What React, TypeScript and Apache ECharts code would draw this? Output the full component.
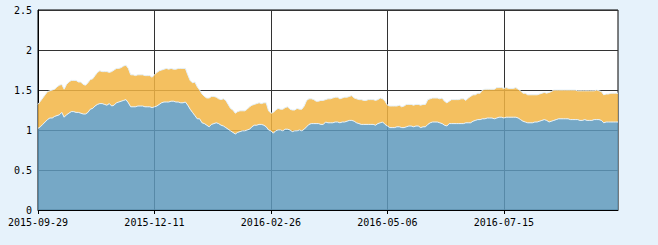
import React, { useEffect, useRef } from "react";
import * as echarts from "echarts";

// Trading-day calendar (categories): weekdays from the start date, minus these closed days
const START_DATE = "2015-09-29";
const POINT_COUNT = 245;
const CLOSED_DAYS = [
  "2015-10-01", "2015-10-02", "2015-10-05", "2015-10-06",
  "2016-01-01",
  "2016-02-08", "2016-02-09", "2016-02-10", "2016-02-11", "2016-02-12",
  "2016-04-04", "2016-06-09", "2016-09-15", "2016-09-16",
];

// Lower (blue) series
const BLUE = [
  1.02, 1.04, 1.07, 1.10, 1.13, 1.15, 1.15, 1.17, 1.18, 1.19,
  1.22, 1.16, 1.19, 1.21, 1.23, 1.23, 1.22, 1.22, 1.21, 1.20,
  1.20, 1.22, 1.26, 1.27, 1.30, 1.32, 1.33, 1.33, 1.32, 1.31,
  1.33, 1.30, 1.31, 1.34, 1.35, 1.36, 1.37, 1.38, 1.34, 1.29,
  1.29, 1.29, 1.30, 1.30, 1.30, 1.29, 1.29, 1.29, 1.28, 1.29,
  1.30, 1.32, 1.34, 1.35, 1.35, 1.35, 1.36, 1.36, 1.35, 1.35,
  1.34, 1.34, 1.35, 1.31, 1.26, 1.22, 1.18, 1.14, 1.14, 1.09,
  1.08, 1.06, 1.04, 1.07, 1.08, 1.09, 1.08, 1.06, 1.05, 1.03,
  1.01, 0.99, 0.97, 0.95, 0.97, 0.98, 0.99, 0.99, 1.00, 1.01,
  1.04, 1.06, 1.06, 1.07, 1.07, 1.06, 1.04, 1.00, 0.99, 0.96,
  0.99, 1.00, 1.00, 0.99, 1.01, 1.01, 1.00, 0.98, 0.99, 0.99,
  1.00, 0.99, 1.01, 1.04, 1.07, 1.08, 1.08, 1.08, 1.08, 1.07,
  1.07, 1.10, 1.09, 1.09, 1.09, 1.10, 1.10, 1.09, 1.10, 1.10,
  1.11, 1.12, 1.12, 1.11, 1.09, 1.08, 1.07, 1.07, 1.07, 1.07,
  1.07, 1.07, 1.06, 1.08, 1.09, 1.10, 1.07, 1.05, 1.03, 1.03,
  1.03, 1.04, 1.04, 1.03, 1.03, 1.04, 1.05, 1.05, 1.04, 1.05,
  1.05, 1.03, 1.04, 1.04, 1.07, 1.09, 1.10, 1.10, 1.10, 1.09,
  1.08, 1.06, 1.05, 1.08, 1.08, 1.08, 1.08, 1.08, 1.08, 1.08,
  1.09, 1.09, 1.09, 1.11, 1.12, 1.13, 1.13, 1.14, 1.14, 1.15,
  1.15, 1.15, 1.14, 1.15, 1.16, 1.16, 1.15, 1.16, 1.16, 1.16,
  1.16, 1.16, 1.15, 1.13, 1.11, 1.10, 1.09, 1.09, 1.09, 1.10,
  1.10, 1.11, 1.12, 1.13, 1.12, 1.10, 1.11, 1.12, 1.13, 1.14,
  1.14, 1.14, 1.14, 1.14, 1.13, 1.13, 1.13, 1.13, 1.12, 1.12,
  1.13, 1.12, 1.12, 1.12, 1.13, 1.13, 1.13, 1.12, 1.09, 1.10,
  1.10, 1.10, 1.10, 1.10, 1.10,
];

// Upper (orange) series, stacked on the blue one
const ORANGE = [
  0.30, 0.32, 0.33, 0.34, 0.35, 0.34, 0.35, 0.34, 0.36, 0.37,
  0.35, 0.35, 0.38, 0.39, 0.39, 0.39, 0.40, 0.38, 0.39, 0.37,
  0.36, 0.37, 0.37, 0.37, 0.38, 0.40, 0.41, 0.40, 0.41, 0.42,
  0.39, 0.43, 0.44, 0.43, 0.42, 0.42, 0.43, 0.43, 0.43, 0.40,
  0.40, 0.39, 0.39, 0.39, 0.39, 0.39, 0.39, 0.39, 0.38, 0.40,
  0.42, 0.42, 0.41, 0.41, 0.42, 0.41, 0.41, 0.40, 0.41, 0.42,
  0.43, 0.43, 0.42, 0.38, 0.36, 0.37, 0.42, 0.40, 0.36, 0.36,
  0.34, 0.34, 0.36, 0.35, 0.34, 0.32, 0.31, 0.32, 0.34, 0.34,
  0.31, 0.28, 0.28, 0.26, 0.26, 0.26, 0.25, 0.25, 0.26, 0.28,
  0.27, 0.26, 0.27, 0.27, 0.26, 0.28, 0.30, 0.24, 0.22, 0.26,
  0.26, 0.27, 0.26, 0.27, 0.27, 0.28, 0.26, 0.27, 0.26, 0.28,
  0.26, 0.27, 0.29, 0.33, 0.32, 0.31, 0.30, 0.28, 0.28, 0.30,
  0.30, 0.28, 0.30, 0.30, 0.31, 0.31, 0.31, 0.30, 0.30, 0.31,
  0.30, 0.30, 0.31, 0.29, 0.30, 0.30, 0.31, 0.30, 0.30, 0.31,
  0.31, 0.31, 0.31, 0.30, 0.31, 0.29, 0.29, 0.26, 0.27, 0.27,
  0.27, 0.26, 0.27, 0.26, 0.27, 0.28, 0.27, 0.27, 0.27, 0.27,
  0.27, 0.28, 0.28, 0.28, 0.31, 0.30, 0.30, 0.30, 0.30, 0.30,
  0.32, 0.30, 0.29, 0.28, 0.30, 0.30, 0.30, 0.30, 0.31, 0.31,
  0.28, 0.31, 0.33, 0.33, 0.32, 0.33, 0.33, 0.36, 0.37, 0.36,
  0.36, 0.36, 0.37, 0.38, 0.37, 0.37, 0.37, 0.37, 0.36, 0.36,
  0.36, 0.37, 0.36, 0.36, 0.35, 0.36, 0.35, 0.35, 0.35, 0.34,
  0.34, 0.34, 0.34, 0.34, 0.34, 0.37, 0.37, 0.38, 0.37, 0.36,
  0.36, 0.36, 0.36, 0.36, 0.37, 0.37, 0.37, 0.36, 0.37, 0.37,
  0.36, 0.37, 0.37, 0.37, 0.36, 0.37, 0.36, 0.36, 0.35, 0.35,
  0.35, 0.36, 0.36, 0.36, 0.36,
];

const Y_MIN = 0;
const Y_MAX = 2.5;
const Y_STEP = 0.5;
const LABEL_INTERVAL = 48;

function buildDates(): string[] {
  const closed = new Set(CLOSED_DAYS);
  const out: string[] = [];
  const d = new Date(START_DATE + "T00:00:00Z");
  while (out.length < POINT_COUNT) {
    const day = d.getUTCDay();
    const s = d.toISOString().slice(0, 10);
    if (day !== 0 && day !== 6 && !closed.has(s)) out.push(s);
    d.setUTCDate(d.getUTCDate() + 1);
  }
  return out;
}

export default function App() {
  const ref = useRef<HTMLDivElement>(null);

  useEffect(() => {
    document.body.style.margin = "0";
    document.body.style.background = "#e6f2fb";
    if (!ref.current) return;
    const chart = echarts.init(ref.current, undefined, { renderer: "svg" });
    const dates = buildDates();
    const font = "'DejaVu Sans Mono', 'Liberation Mono', monospace";
    chart.setOption({
      animation: false,
      backgroundColor: "#e6f2fb",
      grid: {
        left: 38,
        right: 40,
        top: 10,
        bottom: 35,
        show: true,
        backgroundColor: "#ffffff",
        borderColor: "#000000",
        borderWidth: 1,
      },
      xAxis: {
        type: "category",
        data: dates,
        boundaryGap: false,
        axisLine: { show: true, lineStyle: { color: "#000", width: 1 } },
        axisTick: {
          show: true,
          interval: LABEL_INTERVAL,
          length: 4,
          lineStyle: { color: "#000" },
        },
        axisLabel: {
          interval: LABEL_INTERVAL,
          color: "#000",
          fontFamily: font,
          fontSize: 10,
          margin: 7,
        },
        splitLine: {
          show: true,
          interval: LABEL_INTERVAL,
          lineStyle: { color: "#333", width: 1 },
        },
      },
      yAxis: {
        type: "value",
        min: Y_MIN,
        max: Y_MAX,
        interval: Y_STEP,
        axisLine: { show: true, lineStyle: { color: "#000", width: 1 } },
        axisTick: { show: false },
        axisLabel: {
          color: "#000",
          fontFamily: font,
          fontSize: 10,
          margin: 6,
        },
        splitLine: { show: true, lineStyle: { color: "#333", width: 1 } },
      },
      series: [
        {
          type: "line",
          stack: "total",
          data: BLUE,
          symbol: "none",
          lineStyle: { color: "#e4f1fb", width: 1 },
          areaStyle: { color: "#5e99bc", opacity: 0.85 },
        },
        {
          type: "line",
          stack: "total",
          data: ORANGE,
          symbol: "none",
          lineStyle: { color: "#e4f1fb", width: 1 },
          areaStyle: { color: "#f2b544", opacity: 0.85 },
        },
      ],
    });
    return () => chart.dispose();
  }, []);

  return <div ref={ref} style={{ width: 658, height: 245 }} />;
}
